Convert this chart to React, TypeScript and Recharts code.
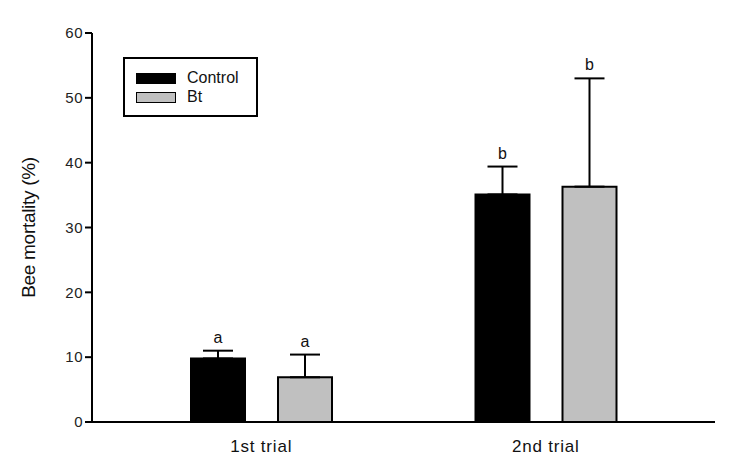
import React from "react";
import {
  BarChart,
  Bar,
  XAxis,
  YAxis,
  ErrorBar,
} from "recharts";

const trials = ["1st trial", "2nd trial"];
const controlMean = [9.8, 35.1];
const btMean = [6.9, 36.3];
const controlErr = [1.2, 4.3];
const btErr = [3.5, 16.7];
const controlLetters = ["a", "b"];
const btLetters = ["a", "b"];
const yTicks = [0, 10, 20, 30, 40, 50, 60];

const seriesNames = ["Control", "Bt"];
const seriesFills = ["#000000", "#c0c0c0"];

const FONT = "'Liberation Sans', Arial, sans-serif";

// table for recharts, errors only go upward
const chartData = trials.map((t, i) => ({
  trial: t,
  control: controlMean[i],
  bt: btMean[i],
  controlErr: [0, controlErr[i]],
  btErr: [0, btErr[i]],
}));

// letter above the error cap; pixels per unit taken from the bar itself
const makeLetter = (errs: number[], letters: string[]) => (props: any) => {
  const { x, y, width, height, value, index } = props;
  if (!value) return null;
  const capY = y - (errs[index] * height) / value;
  return (
    <text
      x={x + width / 2}
      y={capY - 8}
      textAnchor="middle"
      fontSize={16}
      fontFamily={FONT}
      fill="#111"
    >
      {letters[index]}
    </text>
  );
};

const YLabel = (props: any) => {
  const { viewBox } = props;
  const cy = viewBox.y + viewBox.height / 2;
  return (
    <text
      x={28}
      y={cy}
      transform={`rotate(-90, 28, ${cy})`}
      textAnchor="middle"
      dominantBaseline="central"
      fontSize={19}
      fontFamily={FONT}
      letterSpacing={-0.3}
      fill="#111"
    >
      Bee mortality (%)
    </text>
  );
};

function LegendBox() {
  return (
    <div
      style={{
        position: "absolute",
        left: 123,
        top: 57,
        width: 131,
        height: 56,
        border: "2px solid #000",
        fontFamily: FONT,
        fontSize: 16,
        color: "#111",
      }}
    >
      {seriesNames.map((name, i) => (
        <div
          key={name}
          style={{
            position: "absolute",
            left: 11,
            top: 13 + i * 19,
            display: "flex",
            alignItems: "center",
            height: 12,
          }}
        >
          <div
            style={{
              width: 38,
              height: 9,
              background: seriesFills[i],
              border: "1.5px solid #000",
              marginRight: 11,
            }}
          />
          <span style={{ lineHeight: "12px" }}>{name}</span>
        </div>
      ))}
    </div>
  );
}

export default function App() {
  return (
    <div style={{ position: "relative", width: 738, height: 468, background: "#fff" }}>
      <style>{"body{margin:0}"}</style>
      <BarChart
        width={738}
        height={468}
        data={chartData}
        margin={{ top: 33, right: 23, bottom: 0, left: 0 }}
        barSize={54}
        barGap={33}
      >
        <XAxis
          dataKey="trial"
          height={46}
          padding={{ left: 27, right: 27 }}
          tickLine={false}
          axisLine={{ stroke: "#000", strokeWidth: 2 }}
          tick={{ fontSize: 17, fontFamily: FONT, fill: "#111", letterSpacing: 0.8 }}
          tickMargin={12}
        />
        <XAxis
          xAxisId="top"
          orientation="top"
          dataKey="trial"
          height={0}
          tick={false}
          tickLine={false}
          axisLine={{ stroke: "#000", strokeWidth: 2 }}
        />
        <YAxis
          width={92}
          domain={[0, 60]}
          ticks={yTicks}
          tickSize={7}
          tickLine={{ stroke: "#000", strokeWidth: 2 }}
          axisLine={{ stroke: "#000", strokeWidth: 2 }}
          tick={{ fontSize: 15, fontFamily: FONT, fill: "#222", letterSpacing: 0.5 }}
          label={<YLabel />}
        />
        <YAxis
          yAxisId="right"
          orientation="right"
          width={0}
          domain={[0, 60]}
          tick={false}
          tickLine={false}
          axisLine={{ stroke: "#000", strokeWidth: 2 }}
        />
        <Bar
          dataKey="control"
          name={seriesNames[0]}
          fill={seriesFills[0]}
          stroke="#000"
          strokeWidth={2}
          isAnimationActive={false}
          label={makeLetter(controlErr, controlLetters)}
        >
          <ErrorBar dataKey="controlErr" width={15} stroke="#000" strokeWidth={2} direction="y" />
        </Bar>
        <Bar
          dataKey="bt"
          name={seriesNames[1]}
          fill={seriesFills[1]}
          stroke="#000"
          strokeWidth={2}
          isAnimationActive={false}
          label={makeLetter(btErr, btLetters)}
        >
          <ErrorBar dataKey="btErr" width={15} stroke="#000" strokeWidth={2} direction="y" />
        </Bar>
      </BarChart>
      <LegendBox />
    </div>
  );
}
